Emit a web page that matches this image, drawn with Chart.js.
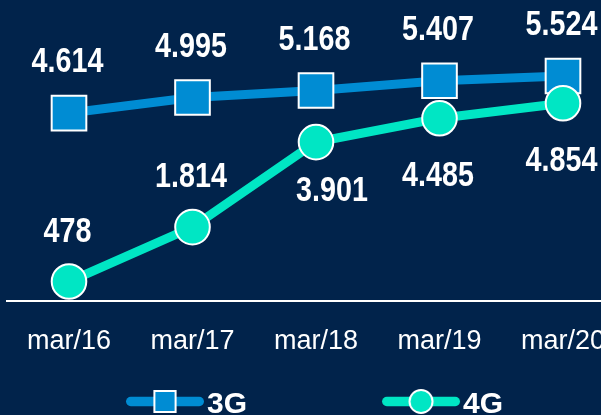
<!DOCTYPE html>
<html lang="pt">
<head>
<meta charset="UTF-8">
<title>3G x 4G</title>
<script src="https://cdn.jsdelivr.net/npm/chart.js"></script>
<style>
  html, body { margin: 0; width: 601px; height: 415px; overflow: hidden; background: #01234b; }
  #chart { position: absolute; left: -9px; top: 0; }
</style>
</head>
<body>
<canvas id="chart" width="650" height="430"></canvas>
<script>
const categories = ['mar/16', 'mar/17', 'mar/18', 'mar/19', 'mar/20'];
const values3G = [4614, 4995, 5168, 5407, 5524];
const values4G = [478, 1814, 3901, 4485, 4854];
const seriesNames = ['3G', '4G'];

const BLUE = '#008cd3', TEAL = '#00e6c4';
const SANS = "'Liberation Sans', Arial, sans-serif";

// where each value label sits relative to its point: [dx, baseline dy]
const labelOffsets = [
  [[-1.5, -41], [-1.5, -41], [-1.5, -41], [-1.5, -41], [-1.5, -41]],
  [[-1.5, -40], [-1.5, -40], [16, 59], [-1.5, 67.5], [-1.5, 67.5]]
];

const legendBox = 191, legendPad = 10, legendFont = 30;

// legend symbol: line + marker, drawn at the right end of a wide box
function legendIcon(color, style) {
  const c = document.createElement('canvas');
  c.width = legendBox + legendFont; c.height = 40;
  const g = c.getContext('2d');
  const x0 = c.width - 81, x1 = c.width - 3, cy = 16.5, cx = (x0 + x1) / 2;
  g.strokeStyle = color; g.lineWidth = 9.5; g.lineCap = 'round';
  g.beginPath(); g.moveTo(x0 + 4.75, cy); g.lineTo(x1 - 4.75, cy); g.stroke();
  g.fillStyle = color; g.strokeStyle = '#fff'; g.lineWidth = 2;
  g.beginPath();
  if (style === 'rect') g.rect(cx - 10.6, cy - 10.6, 21.2, 21.2);
  else g.arc(cx, cy, 11.5, 0, Math.PI * 2);
  g.fill(); g.stroke();
  return c;
}
const icons = [legendIcon(BLUE, 'rect'), legendIcon(TEAL, 'circle')];

function fmt(v) { return String(v).replace(/\B(?=(\d{3})+(?!\d))/g, '.'); }

// value labels, bold and narrowed like the original
const valueLabels = {
  id: 'valueLabels',
  afterDatasetsDraw(chart) {
    const ctx = chart.ctx;
    chart.data.datasets.forEach((ds, d) => {
      chart.getDatasetMeta(d).data.forEach((pt, i) => {
        const [dx, dy] = labelOffsets[d][i];
        ctx.save();
        ctx.font = 'bold 35px ' + SANS;
        ctx.fillStyle = '#fff';
        ctx.textAlign = 'center';
        ctx.textBaseline = 'alphabetic';
        ctx.translate(pt.x + dx, pt.y + dy);
        ctx.scale(0.82, 1);
        ctx.fillText(fmt(ds.data[i]), 0, 0);
        ctx.restore();
      });
    });
  }
};

new Chart(document.getElementById('chart'), {
  type: 'line',
  data: {
    labels: categories,
    datasets: [
      { label: seriesNames[0], data: values3G, borderColor: BLUE, backgroundColor: BLUE, borderWidth: 9,
        pointStyle: 'rect', pointRadius: 24.5, pointBackgroundColor: BLUE, pointBorderColor: '#fff', pointBorderWidth: 2, order: 1 },
      { label: seriesNames[1], data: values4G, borderColor: TEAL, backgroundColor: TEAL, borderWidth: 9,
        pointStyle: 'circle', pointRadius: 17.3, pointBackgroundColor: TEAL, pointBorderColor: '#fff', pointBorderWidth: 2, order: 0 }
    ]
  },
  options: {
    responsive: false, animation: false, devicePixelRatio: 1, events: [],
    layout: { autoPadding: false, padding: { left: 0, right: 16.25, top: 0, bottom: 0 } },
    scales: {
      x: {
        offset: true,
        grid: { display: false, drawTicks: false },
        border: { display: true, color: '#fff', width: 2 },
        ticks: { color: '#fff', padding: 24, font: { family: SANS, size: 27 } },
        afterFit: s => { s.height = 79; }
      },
      y: {
        min: 0, max: 7390,
        grid: { display: false, drawTicks: false },
        border: { display: false },
        ticks: { display: false },
        afterFit: s => { s.width = 16.25; }
      }
    },
    plugins: {
      tooltip: { enabled: false },
      legend: {
        position: 'bottom', align: 'start',
        labels: {
          color: '#fff', font: { family: SANS, size: legendFont, weight: 'bold' },
          usePointStyle: true, pointStyleWidth: legendBox, padding: legendPad,
          generateLabels: chart => chart.data.datasets.map((ds, i) => ({
            text: ds.label, pointStyle: icons[i], fontColor: '#fff', hidden: false,
            datasetIndex: i, lineWidth: 0, strokeStyle: 'transparent', fillStyle: 'transparent'
          }))
        }
      }
    }
  },
  plugins: [valueLabels]
});
</script>
</body>
</html>
